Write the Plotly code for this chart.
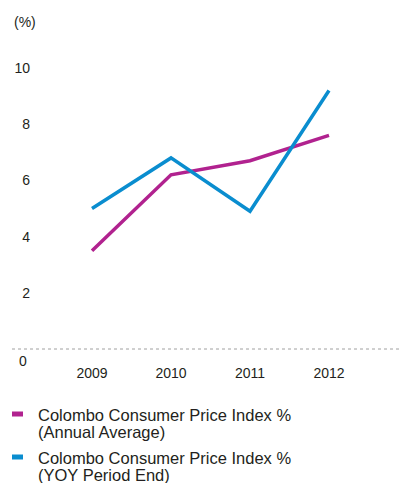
import plotly.graph_objects as go

# Colombo Consumer Price Index, %
years = ["2009", "2010", "2011", "2012"]
annual_average = [3.5, 6.2, 6.7, 7.6]
yoy_period_end = [5.0, 6.8, 4.9, 9.2]

series_labels = [
    ["Colombo Consumer Price Index %", "(Annual Average)"],
    ["Colombo Consumer Price Index %", "(YOY Period End)"],
]
series_colors = ["#B1228F", "#0A8DCF"]
y_ticks = [2, 4, 6, 8, 10]

FONT = "Liberation Sans, Arial, Helvetica, sans-serif"
TEXT = "#231F20"

W, H = 402, 483
ML, MR, MT, MB = 31, 2, 60, 134
PW, PH = W - ML - MR, H - MT - MB


def px_x(px):
    """Page pixel column -> paper x."""
    return (px - ML) / PW


def px_y(py):
    """Page pixel row -> paper y."""
    return (H - MB - py) / PH


fig = go.Figure()

for labels, values, color in zip(series_labels, [annual_average, yoy_period_end], series_colors):
    fig.add_trace(go.Scatter(
        x=years, y=values, mode="lines", name=" ".join(labels),
        line=dict(color=color, width=3.5),
        showlegend=False, hoverinfo="skip",
    ))

# Dotted baseline at zero
fig.add_shape(type="line", xref="paper", yref="paper",
              x0=px_x(12), x1=px_x(400), y0=0, y1=0,
              line=dict(color="#a0a0a0", width=1, dash="dot"))

# Zero label sits just under the baseline
fig.add_annotation(x=0, xref="paper", y=0, yref="y", text="0",
                   showarrow=False, xanchor="right", yanchor="middle",
                   xshift=-2, yshift=-12, font=dict(size=14, color=TEXT, family=FONT))

# Unit label
fig.add_annotation(x=px_x(12), xref="paper", y=px_y(22), yref="paper", text="(%)",
                   showarrow=False, xanchor="left", yanchor="middle",
                   font=dict(size=14, color=TEXT, family=FONT))

# Key below the chart: colour bar + two-line label per series
key_rows = [414, 457]
for row, labels, color in zip(key_rows, series_labels, series_colors):
    fig.add_shape(type="rect", xref="paper", yref="paper",
                  x0=px_x(12), x1=px_x(23), y0=px_y(row - 2.5), y1=px_y(row + 2.5),
                  line=dict(width=0), fillcolor=color)
    for i, line in enumerate(labels):
        fig.add_annotation(x=px_x(36), xref="paper", y=px_y(row + 1 + 17 * i), yref="paper",
                           text=line, showarrow=False, xanchor="left", yanchor="middle",
                           font=dict(size=16.5, color=TEXT, family=FONT))

fig.update_layout(
    width=W, height=H,
    margin=dict(l=ML, r=MR, t=MT, b=MB, autoexpand=False),
    paper_bgcolor="white", plot_bgcolor="white",
    font=dict(family=FONT, size=14, color=TEXT),
    showlegend=False,
    xaxis=dict(
        type="category", range=[-(92 - ML) / 79, 3 + (400 - 329) / 79],
        showgrid=False, zeroline=False, showline=False,
        ticks="", ticklabelstandoff=14,
        tickfont=dict(size=14, color=TEXT),
    ),
    yaxis=dict(
        range=[0, PH / 28.1], tickvals=y_ticks,
        showgrid=False, zeroline=False, showline=False,
        ticks="", tickfont=dict(size=14, color=TEXT),
    ),
)

fig.write_html("out.html")
